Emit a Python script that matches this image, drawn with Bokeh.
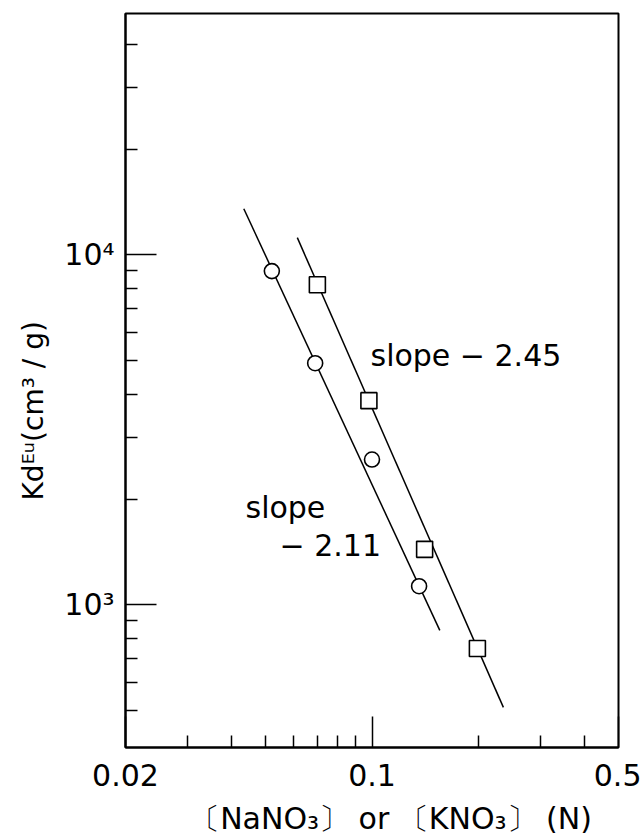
import numpy as np
from bokeh.plotting import figure
from bokeh.models import Range1d, FixedTicker, Label, Title
from bokeh.embed import file_html
from bokeh.resources import INLINE

# ---------------- data ----------------
nano3_conc = [0.052, 0.069, 0.100, 0.136]      # circles
nano3_kd = [8980, 4900, 2600, 1130]
kno3_conc = [0.070, 0.098, 0.141, 0.199]       # squares
kno3_kd = [8210, 3830, 1440, 750]

fit_nano3_conc = [0.0433, 0.1557]               # fitted line, slope -2.11
fit_nano3_kd = [13530, 845]
fit_kno3_conc = [0.0614, 0.2358]                # fitted line, slope -2.45
fit_kno3_kd = [11190, 509]

x_ticks = [0.02, 0.1, 0.5]
x_tick_labels = ["0.02", "0.1", "0.5"]
x_minor_ticks = [0.03, 0.04, 0.05, 0.06, 0.07, 0.08, 0.09, 0.2, 0.3, 0.4]
y_ticks = [1000, 10000]
y_tick_labels = ["10³", "10⁴"]
y_minor_ticks = [500, 600, 700, 800, 900,
                 2000, 3000, 4000, 5000, 6000, 7000, 8000, 9000,
                 20000, 30000, 40000]

x_title = "〔NaNO₃〕 or 〔KNO₃〕 (N)"
y_title = "Kdᴱᵘ(cm³ / g)"

X0, X1 = 0.02, 0.5
Y0, Y1 = 391, 48900

# ---------------- layout ----------------
W, H = 641, 840
FL, FR, FT, FB = 125, 618, 13, 747   # frame edges in pixels

FONT = "DejaVu Sans"
NBSP = "\u00a0"


def dx(px):
    return 10 ** (np.log10(X0) + (px - FL) / (FR - FL) * np.log10(X1 / X0))


def dy(py):
    return 10 ** (np.log10(Y1) - (py - FT) / (FB - FT) * np.log10(Y1 / Y0))


p = figure(width=W, height=H, x_axis_type="log", y_axis_type="log",
           x_range=Range1d(X0, X1), y_range=Range1d(Y0, Y1),
           output_backend="svg", toolbar_location=None,
           min_border_left=FL, min_border_right=W - FR,
           min_border_top=FT, min_border_bottom=H - FB)
p.grid.visible = False
p.background_fill_color = "white"
p.border_fill_color = "white"
p.outline_line_color = "black"
p.outline_line_width = 2
p.outline_line_alpha = 1

p.xaxis.ticker = FixedTicker(ticks=x_ticks, minor_ticks=x_minor_ticks)
p.xaxis.major_label_overrides = dict(zip(x_ticks, x_tick_labels))
p.yaxis.ticker = FixedTicker(ticks=y_ticks, minor_ticks=y_minor_ticks)
p.yaxis.major_label_overrides = dict(zip(y_ticks, y_tick_labels))

for ax in (p.xaxis[0], p.yaxis[0]):
    ax.major_tick_in = 31
    ax.major_tick_out = 0
    ax.minor_tick_in = 12
    ax.minor_tick_out = 0
    ax.major_tick_line_color = "black"
    ax.minor_tick_line_color = "black"
    ax.major_tick_line_width = 1.5
    ax.minor_tick_line_width = 1.5
    ax.axis_line_color = "black"
    ax.axis_line_width = 2
    ax.major_label_text_font = FONT
    ax.major_label_text_font_size = "30px"
    ax.major_label_text_color = "black"
p.xaxis.major_label_standoff = 16
p.yaxis.major_label_standoff = 11

# x-axis title (padded on the left so it sits right of centre, as in the reference)
p.xaxis.axis_label = NBSP * 4 + x_title
p.xaxis.axis_label_standoff = 12
p.xaxis.axis_label_text_font = FONT
p.xaxis.axis_label_text_font_size = "30px"
p.xaxis.axis_label_text_font_style = "normal"
p.xaxis.axis_label_text_color = "black"

# y-axis title as a side-panel title (placed along the axis with an offset)
p.add_layout(Title(text=y_title, align="left", offset=247, standoff=24,
                   text_font=FONT, text_font_size="28px",
                   text_font_style="normal", text_color="black"), "left")

# fitted lines
p.line(fit_nano3_conc, fit_nano3_kd, line_color="black", line_width=1.5)
p.line(fit_kno3_conc, fit_kno3_kd, line_color="black", line_width=1.5)

# points
p.scatter(nano3_conc, nano3_kd, marker="circle", size=15,
          fill_color="white", line_color="black", line_width=1.6)
p.scatter(kno3_conc, kno3_kd, marker="square", size=16,
          fill_color="white", line_color="black", line_width=1.6)


def add_label(text, px, py, size, align="left"):
    p.add_layout(Label(x=dx(px), y=dy(py), text=text, text_font=FONT,
                       text_font_size=f"{size}px", text_align=align,
                       text_baseline="alphabetic", text_color="black"))


# in-plot annotations
add_label("slope − 2.45", 370, 355, 30)
add_label("slope", 245, 507, 30)
add_label("− 2.11", 279, 545, 30)

open("out.html", "w").write(file_html(p, INLINE))
